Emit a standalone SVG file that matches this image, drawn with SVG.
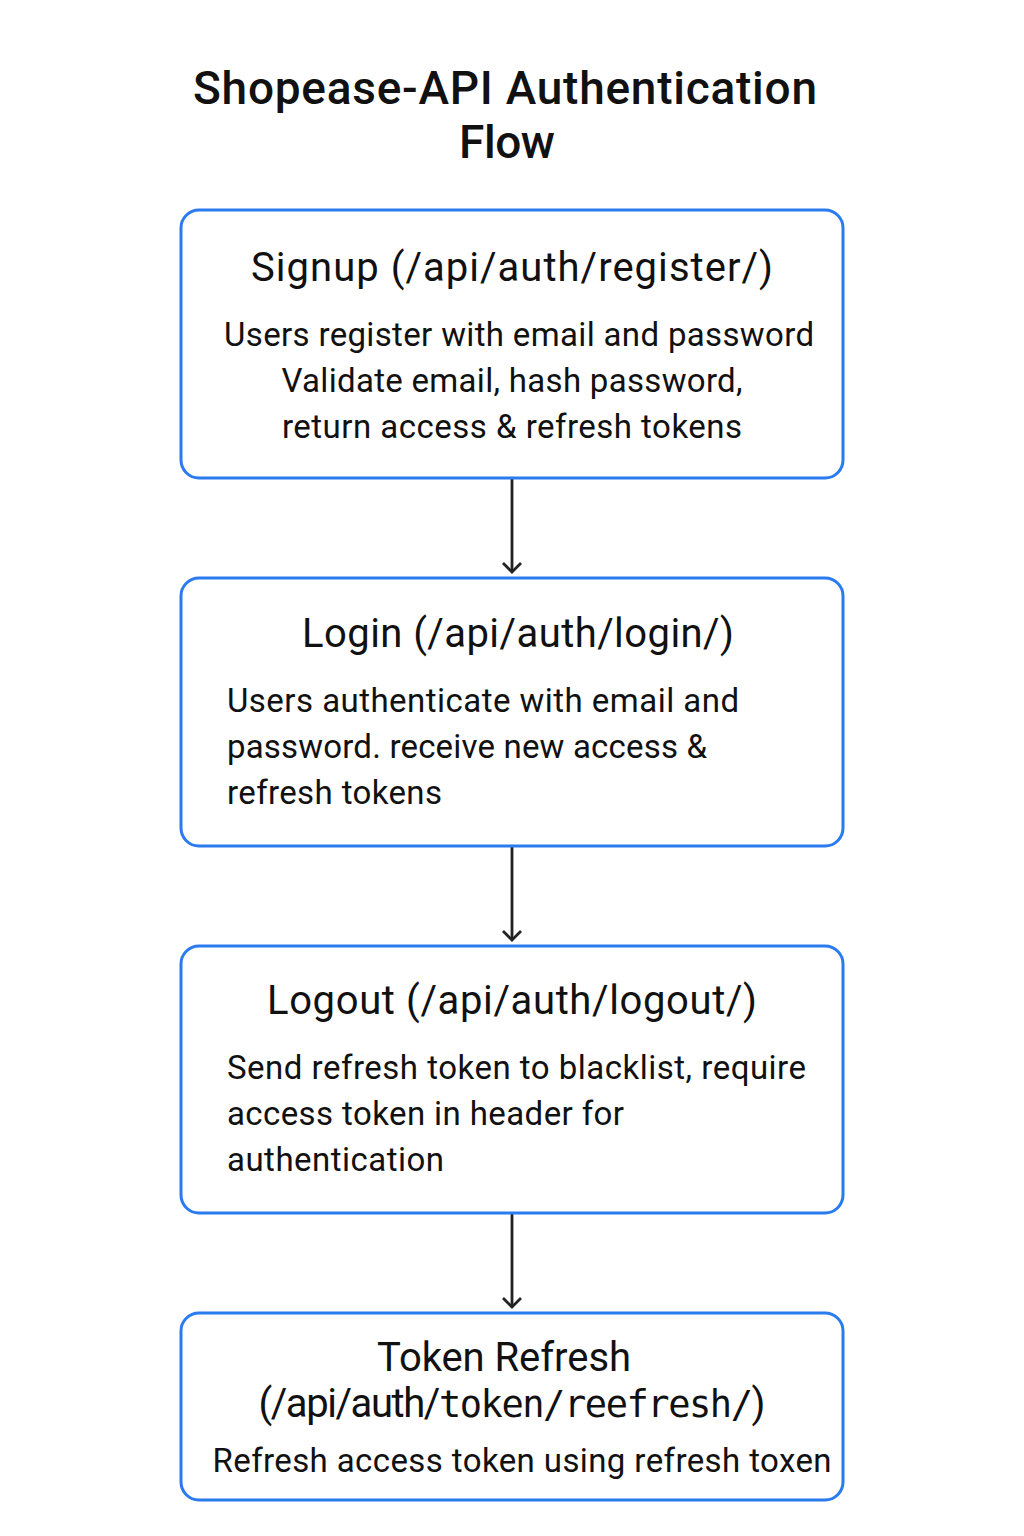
<svg xmlns="http://www.w3.org/2000/svg" width="1024" height="1536" viewBox="0 0 1024 1536">
<defs>
<style>
.box{fill:#fff;stroke:#2a7af0;stroke-width:3}
.title{font-family:Roboto,"Liberation Sans",sans-serif;font-size:46px;font-weight:500;fill:#111;text-anchor:middle}
.hd{font-family:Roboto,"Liberation Sans",sans-serif;font-size:40px;fill:#111;text-anchor:middle}
.bd{font-family:Roboto,"Liberation Sans",sans-serif;font-size:33px;fill:#111}
.mono{font-family:"DejaVu Sans Mono","Liberation Mono",monospace;font-size:37px}
.c{text-anchor:middle}
.conn{stroke:#222;stroke-width:2.8;fill:none}
</style>
<marker id="ah" viewBox="0 0 20 20" refX="18" refY="10" markerWidth="20" markerHeight="20" markerUnits="userSpaceOnUse" orient="auto">
<path d="M9 1 L18 10 L9 19" fill="none" stroke="#222" stroke-width="2.8"/>
</marker>
</defs>
<rect width="1024" height="1536" fill="#fff"/>
<g id="title">
<text class="title" x="505" y="104" textLength="624">Shopease-API Authentication</text>
<text class="title" x="507" y="158" textLength="96">Flow</text>
</g>
<g id="connectors">
<line class="conn" x1="512" y1="479" x2="512" y2="572" marker-end="url(#ah)"/>
<line class="conn" x1="512" y1="847" x2="512" y2="940" marker-end="url(#ah)"/>
<line class="conn" x1="512" y1="1214" x2="512" y2="1307" marker-end="url(#ah)"/>
</g>
<g id="signup">
<rect class="box" x="181" y="210" width="662" height="268" rx="18"/>
<text class="hd" x="512" y="281" textLength="522">Signup (/api/auth/register/)</text>
<text class="bd c" x="519" y="346" textLength="590">Users register with email and password</text>
<text class="bd c" x="512" y="392" textLength="461">Validate email, hash password,</text>
<text class="bd c" x="512" y="438" textLength="460">return access &amp; refresh tokens</text>
</g>
<g id="login">
<rect class="box" x="181" y="578" width="662" height="268" rx="18"/>
<text class="hd" x="518" y="647" textLength="432">Login (/api/auth/login/)</text>
<text class="bd" x="227" y="712" textLength="512">Users authenticate with email and</text>
<text class="bd" x="227" y="758" textLength="480">password. receive new access &amp;</text>
<text class="bd" x="227" y="804" textLength="215">refresh tokens</text>
</g>
<g id="logout">
<rect class="box" x="181" y="946" width="662" height="267" rx="18"/>
<text class="hd" x="512" y="1014" textLength="490">Logout (/api/auth/logout/)</text>
<text class="bd" x="227" y="1079" textLength="579">Send refresh token to blacklist, require</text>
<text class="bd" x="227" y="1125" textLength="397">access token in header for</text>
<text class="bd" x="227" y="1171" textLength="217">authentication</text>
</g>
<g id="refresh">
<rect class="box" x="181" y="1313" width="662" height="187" rx="18"/>
<text class="hd" x="504" y="1371" textLength="254">Token Refresh</text>
<text class="hd" x="512" y="1417" textLength="507">(/api/auth/<tspan class="mono">token/reefresh/</tspan>)</text>
<text class="bd c" x="522" y="1472" textLength="619">Refresh access token using refresh toxen</text>
</g>
</svg>
